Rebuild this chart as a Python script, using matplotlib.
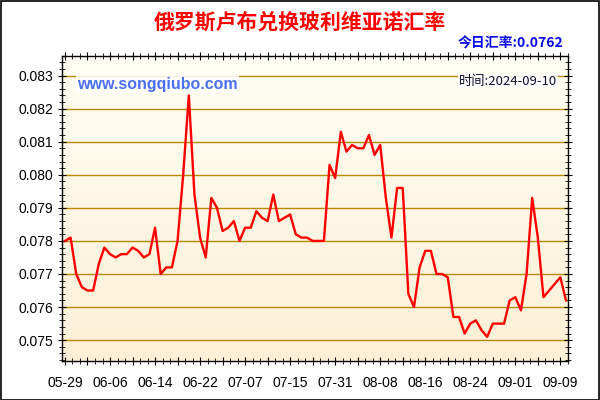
"""
俄罗斯卢布兑换玻利维亚诺汇率走势图
"""

import numpy as np
import matplotlib
matplotlib.use("Agg")
import matplotlib.pyplot as plt
from matplotlib.colors import LinearSegmentedColormap
from matplotlib.patches import Rectangle
from matplotlib.ticker import MultipleLocator, FormatStrFormatter

plt.rcParams['font.family'] = ['Liberation Sans', 'Noto Sans CJK SC', 'DejaVu Sans']

# 汇率数据 (05-29 ~ 09-10)
rates = [
    0.0780, 0.0781, 0.0770, 0.0766, 0.0765, 0.0765, 0.0773, 0.0778, 0.0776, 0.0775,
    0.0776, 0.0776, 0.0778, 0.0777, 0.0775, 0.0776, 0.0784, 0.0770, 0.0772, 0.0772,
    0.0780, 0.0800, 0.0824, 0.0794, 0.0781, 0.0775, 0.0793, 0.0790, 0.0783, 0.0784,
    0.0786, 0.0780, 0.0784, 0.0784, 0.0789, 0.0787, 0.0786, 0.0794, 0.0786, 0.0787,
    0.0788, 0.0782, 0.0781, 0.0781, 0.0780, 0.0780, 0.0780, 0.0803, 0.0799, 0.0813,
    0.0807, 0.0809, 0.0808, 0.0808, 0.0812, 0.0806, 0.0809, 0.0793, 0.0781, 0.0796,
    0.0796, 0.0764, 0.0760, 0.0772, 0.0777, 0.0777, 0.0770, 0.0770, 0.0769, 0.0757,
    0.0757, 0.0752, 0.0755, 0.0756, 0.0753, 0.0751, 0.0755, 0.0755, 0.0755, 0.0762,
    0.0763, 0.0759, 0.0770, 0.0793, 0.0781, 0.0763, 0.0765, 0.0767, 0.0769, 0.0762,
]
date_labels = ['05-29', '06-06', '06-14', '06-22', '07-07', '07-15',
               '07-31', '08-08', '08-16', '08-24', '09-01', '09-09']
label_step = 8

titulo = '俄罗斯卢布兑换玻利维亚诺汇率'
hoje = '今日汇率:0.0762'
data_txt = '时间:2024-09-10'
site = 'www.songqiubo.com'

fig = plt.figure(figsize=(6, 4), dpi=100)
ax = fig.add_axes([62 / 600, 1 - 361 / 400, 506 / 600, 305 / 400])

# 背景渐变
cmap = LinearSegmentedColormap.from_list('bg', ['#fdf0d6', '#fffef4'])
grad = np.linspace(0, 1, 256).reshape(-1, 1)
ax.imshow(grad, cmap=cmap, extent=[0, 1, 0, 1], transform=ax.transAxes,
          aspect='auto', origin='lower', zorder=0)

x = np.arange(len(rates))
ax.plot(x, rates, color='#ff0000', linewidth=1.7, zorder=3)

ax.set_xlim(-0.53, len(rates) - 0.64)
ax.set_ylim(0.07437, 0.08359)

ax.yaxis.set_major_locator(MultipleLocator(0.001))
ax.yaxis.set_minor_locator(MultipleLocator(0.0002))
ax.yaxis.set_major_formatter(FormatStrFormatter('%.3f'))
ax.grid(True, axis='y', which='major', color='#b88a00', linewidth=1.0, zorder=1)

ax.set_xticks(np.arange(0, len(rates), 4), minor=False)
ax.set_xticks(np.arange(0, len(rates), 4 / 3), minor=True)
ax.set_xticklabels([date_labels[i // label_step] if i % label_step == 0 else ''
                    for i in range(0, len(rates), 4)])

ax.tick_params(axis='both', which='both', labelsize=10, colors='black',
               top=True, right=True)
ax.tick_params(axis='both', which='major', length=6, direction='inout')
ax.tick_params(axis='both', which='minor', length=4, direction='inout')
ax.tick_params(axis='x', which='both', pad=8)
for s in ax.spines.values():
    s.set_linewidth(1.0)
    s.set_color('black')

fig.text(0.5, 1 - 22 / 400, titulo, color='#ff0000', fontsize=15, fontweight='bold',
         ha='center', va='center', family=['Noto Sans CJK SC', 'DejaVu Sans'])
fig.text(563 / 600, 1 - 43 / 400, hoje, color='#0a0ae6', fontsize=10, fontweight='bold',
         ha='right', va='center', family=['Noto Sans CJK SC', 'DejaVu Sans'])
ax.text(77 / 600, 1 - 84 / 400, site, transform=fig.transFigure, color='#4a6ff0',
        fontsize=11.5, fontweight='bold', ha='left', va='center', zorder=4,
        bbox=dict(facecolor='white', edgecolor='none', alpha=0.85, pad=1))
ax.text(557 / 600, 1 - 81 / 400, data_txt, transform=fig.transFigure, color='#101030',
        fontsize=9.5, ha='right', va='center', zorder=4,
        family=['Noto Sans CJK SC', 'DejaVu Sans'],
        bbox=dict(facecolor='white', edgecolor='none', alpha=0.9, pad=0.5))

fig.patches.append(Rectangle((0.001, 0.001), 0.997, 0.996, transform=fig.transFigure,
                             fill=False, edgecolor='black', linewidth=1.2))

fig.savefig('out.png', dpi=100)
